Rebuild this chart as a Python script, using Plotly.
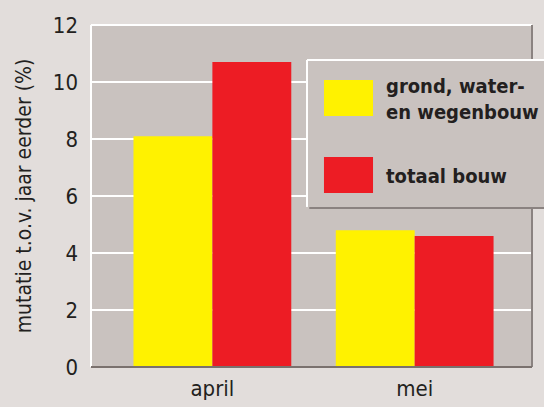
import plotly.graph_objects as go

categories = ["april", "mei"]
grond = [8.1, 4.8]
totaal = [10.7, 4.6]
y_ticks = [0, 2, 4, 6, 8, 10, 12]
legend_labels = ["grond, water-<br>en wegenbouw", "totaal bouw"]

YELLOW = "#fff200"
RED = "#ed1c24"
PLOT_BG = "#c9c2bf"
PAPER_BG = "#e2dddb"
TXT = "#231f20"
FONT = "DejaVu Sans Condensed, Liberation Sans Narrow, Arial Narrow, sans-serif"

fig = go.Figure()
fig.add_trace(go.Bar(x=categories, y=grond, marker=dict(color=YELLOW, line_width=0), name="grond"))
fig.add_trace(go.Bar(x=categories, y=totaal, marker=dict(color=RED, line_width=0), name="totaal"))

shapes = []
shapes.append(dict(type="line", xref="paper", yref="paper", x0=0, x1=1, y0=1, y1=1, line=dict(color="white", width=2)))
shapes.append(dict(type="line", xref="paper", yref="paper", x0=0, x1=0, y0=0, y1=1, line=dict(color="white", width=2)))
shapes.append(dict(type="line", xref="paper", yref="paper", x0=1, x1=1, y0=0, y1=1, line=dict(color="#8a8280", width=2)))
shapes.append(dict(type="line", xref="paper", yref="paper", x0=0, x1=1, y0=0, y1=0, line=dict(color="#7a716e", width=2)))
shapes.append(dict(type="rect", xref="paper", yref="paper", x0=0.495, x1=1.2, y0=0.462, y1=0.892,
                   fillcolor="#8a8280", line_width=0, layer="above"))
shapes.append(dict(type="rect", xref="paper", yref="paper", x0=0.4898, x1=1.2, y0=0.468, y1=0.8977,
                   fillcolor=PLOT_BG, line_width=0, layer="above"))
shapes.append(dict(type="line", xref="paper", yref="paper", x0=0.4898, x1=1.2, y0=0.8977, y1=0.8977,
                   line=dict(color="white", width=2), layer="above"))
shapes.append(dict(type="line", xref="paper", yref="paper", x0=0.4898, x1=0.4898, y0=0.468, y1=0.8977,
                   line=dict(color="white", width=2), layer="above"))
shapes.append(dict(type="rect", xref="paper", yref="paper", x0=0.5283, x1=0.6395, y0=0.7339, y1=0.8392,
                   fillcolor=YELLOW, line_width=0, layer="above"))
shapes.append(dict(type="rect", xref="paper", yref="paper", x0=0.5283, x1=0.6395, y0=0.5088, y1=0.614,
                   fillcolor=RED, line_width=0, layer="above"))

annotations = [
    dict(xref="paper", yref="paper", x=0.665, y=0.784, text="<b>" + legend_labels[0] + "</b>",
         showarrow=False, xanchor="left", yanchor="middle", align="left",
         font=dict(family=FONT, size=20, color=TXT)),
    dict(xref="paper", yref="paper", x=0.665, y=0.558, text="<b>" + legend_labels[1] + "</b>",
         showarrow=False, xanchor="left", yanchor="middle", align="left",
         font=dict(family=FONT, size=20, color=TXT)),
]

fig.update_layout(
    width=544, height=407,
    margin=dict(l=91, r=12, t=25, b=40, autoexpand=False),
    paper_bgcolor=PAPER_BG, plot_bgcolor=PLOT_BG,
    barmode="group", bargap=0.22, bargroupgap=0,
    showlegend=False,
    shapes=shapes, annotations=annotations,
    font=dict(family=FONT, color=TXT),
    xaxis=dict(range=[-0.6, 1.58], showgrid=False, showline=False, ticks="", ticklabelstandoff=6,
               automargin=False, tickfont=dict(size=22, color=TXT), fixedrange=True),
    yaxis=dict(range=[0, 12], tickvals=y_ticks, showgrid=True, gridcolor="white", gridwidth=2,
               zeroline=False, showline=False, ticks="", ticklabelstandoff=12, automargin=False,
               tickfont=dict(size=22, color=TXT),
               title=dict(text="mutatie t.o.v. jaar eerder (%)", font=dict(size=21, color=TXT), standoff=15)),
)

fig.write_html("out.html", config={"displayModeBar": False},
               post_script="document.body.style.margin='0';document.body.style.background='%s';" % PAPER_BG)
